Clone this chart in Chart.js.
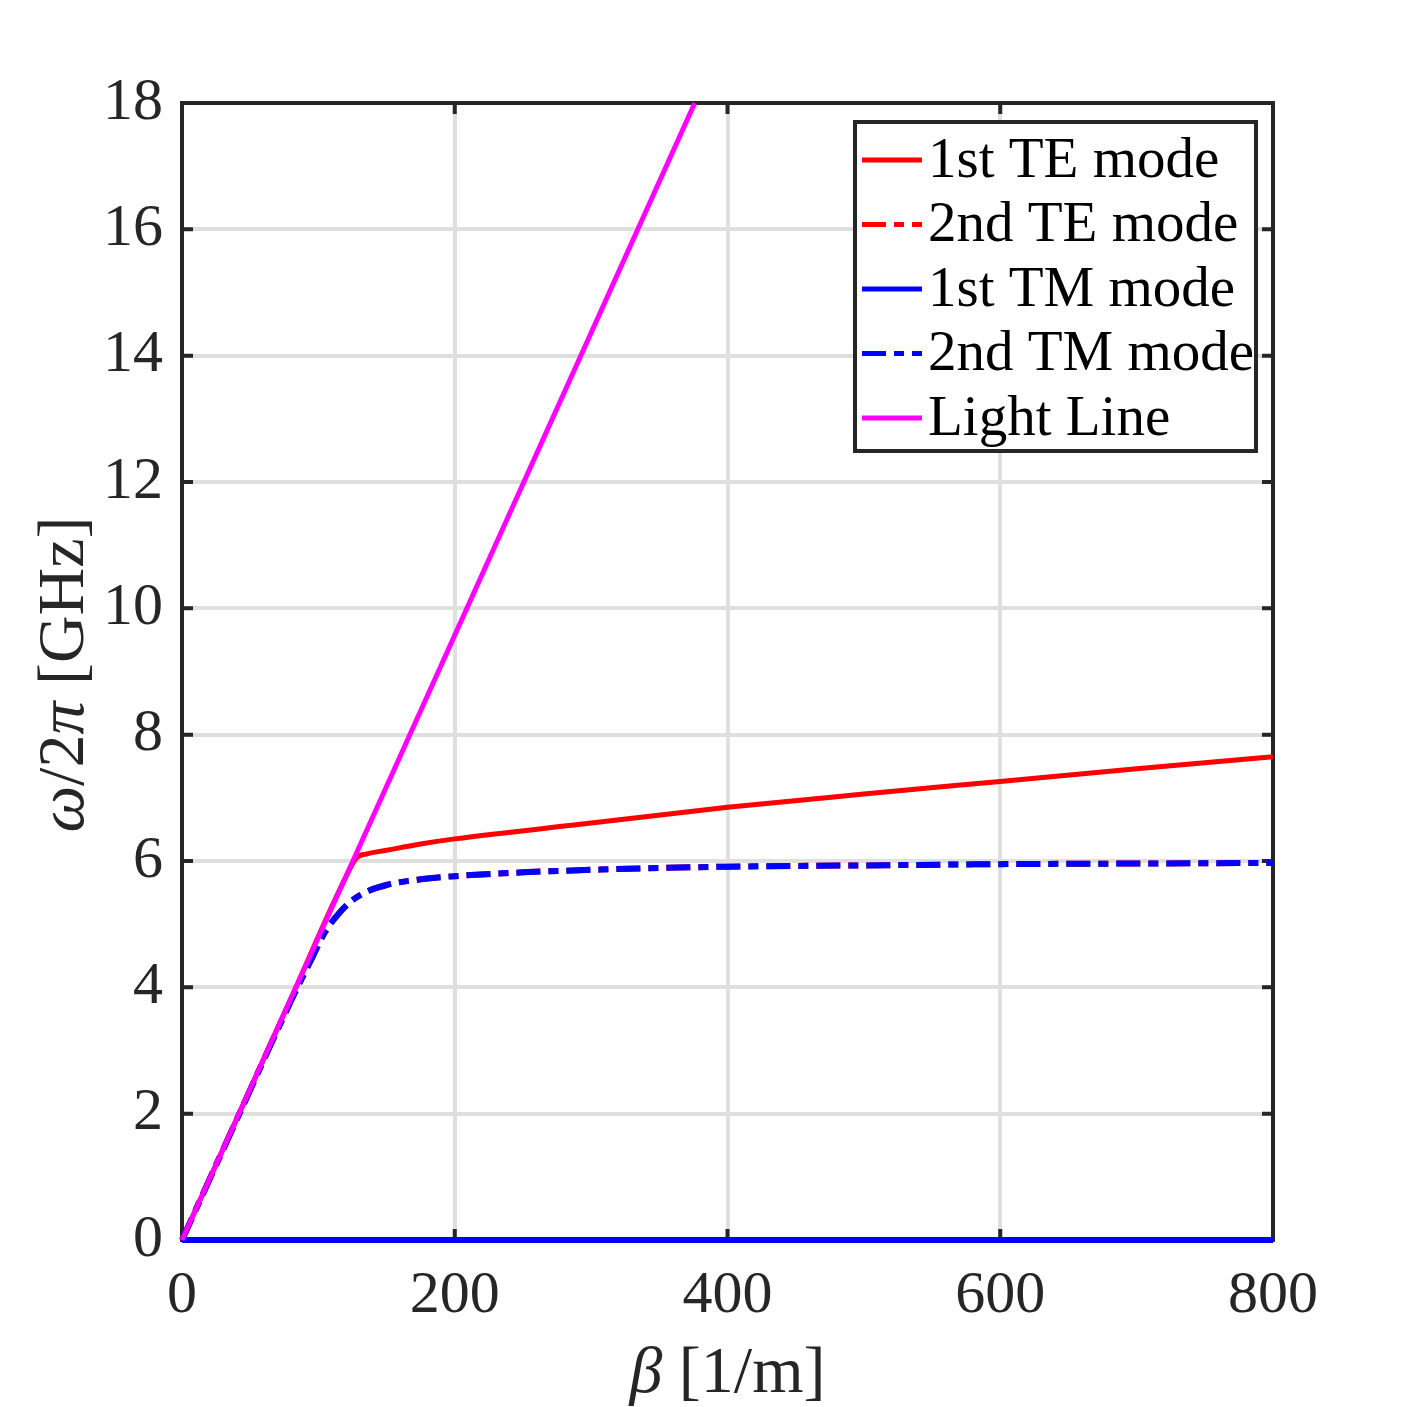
<!DOCTYPE html>
<html>
<head>
<meta charset="utf-8">
<script src="https://cdn.jsdelivr.net/npm/chart.js@4.4.1/dist/chart.umd.min.js"></script>
<style>
  html, body { margin: 0; padding: 0; background: #fff; }
  #wrap { width: 1407px; height: 1407px; }
</style>
</head>
<body>
<div id="wrap"><canvas id="chart1"></canvas></div>
<script>
var seriesLabels = ['1st TE mode', '2nd TE mode', '1st TM mode', '2nd TM mode', 'Light Line']

var te1_beta = [0, 40, 80, 120, 128, 135, 150, 175, 200, 300, 400, 500, 600, 700, 800]
var te1_freq = [0, 1.91, 3.83, 5.74, 6.05, 6.11, 6.17, 6.27, 6.35, 6.6, 6.85, 7.06, 7.26, 7.46, 7.65]

var tm2_beta = [0, 40, 80, 95, 105, 115, 125, 135, 150, 175, 200, 250, 300, 400, 500, 600, 700, 800]
var tm2_freq = [0, 1.9, 3.79, 4.45, 4.88, 5.17, 5.38, 5.51, 5.62, 5.71, 5.76, 5.82, 5.86, 5.91, 5.93, 5.95, 5.96, 5.97]

// 2nd TE mode sits under the 2nd TM curve
var te2_beta = tm2_beta
var te2_freq = tm2_freq

var tm1_beta = [0, 800]
var tm1_freq = [0, 0]

var light_beta = [0, 376]
var light_freq = [0, 18]

var xTicks = [0, 200, 400, 600, 800]
var yTicks = [0, 2, 4, 6, 8, 10, 12, 14, 16, 18]

function pts(xs, ys) {
    return xs.map(function (x, i) { return { x: x, y: ys[i] } })
}

var ink = '#262626'
var serif = '"Liberation Serif", "DejaVu Serif", serif'
var labelSize = 66

var framePlugin = {
    id: 'frame',
    beforeDatasetsDraw: function (chart) {
        var a = chart.chartArea, ctx = chart.ctx
        var xs = chart.scales.x, ys = chart.scales.y
        ctx.save()
        ctx.strokeStyle = ink
        ctx.lineWidth = 4
        ctx.beginPath()
        xTicks.forEach(function (v) {
            var p = xs.getPixelForValue(v)
            ctx.moveTo(p, a.bottom); ctx.lineTo(p, a.bottom - 11)
            ctx.moveTo(p, a.top); ctx.lineTo(p, a.top + 11)
        })
        yTicks.forEach(function (v) {
            var p = ys.getPixelForValue(v)
            ctx.moveTo(a.left, p); ctx.lineTo(a.left + 11, p)
            ctx.moveTo(a.right, p); ctx.lineTo(a.right - 11, p)
        })
        ctx.stroke()
        ctx.strokeRect(a.left, a.top, a.right - a.left, a.bottom - a.top)
        ctx.restore()
    },
    afterDraw: function (chart) {
        var a = chart.chartArea, ctx = chart.ctx
        ctx.save()
        ctx.fillStyle = ink
        ctx.textBaseline = 'alphabetic'
        // x title: β [1/m]
        var cx = (a.left + a.right) / 2
        var xparts = [['β', true], [' [1/m]', false]]
        var xw = 0
        xparts.forEach(function (p) {
            ctx.font = (p[1] ? 'italic ' : '') + labelSize + 'px ' + serif
            p.push(ctx.measureText(p[0]).width)
            xw += p[2]
        })
        var sx = cx - xw / 2
        xparts.forEach(function (p) {
            ctx.font = (p[1] ? 'italic ' : '') + labelSize + 'px ' + serif
            ctx.fillText(p[0], sx, 1392)
            sx += p[2]
        })
        // y title: ω/2π [GHz]
        var parts = [['ω', true], ['/2', false], ['π', true], [' [GHz]', false]]
        var total = 0
        parts.forEach(function (p) {
            ctx.font = (p[1] ? 'italic ' : '') + labelSize + 'px ' + serif
            p.push(ctx.measureText(p[0]).width)
            total += p[2]
        })
        ctx.translate(83, (a.top + a.bottom) / 2 + 3)
        ctx.rotate(-Math.PI / 2)
        var px = -total / 2
        parts.forEach(function (p) {
            ctx.font = (p[1] ? 'italic ' : '') + labelSize + 'px ' + serif
            ctx.fillText(p[0], px, 0)
            px += p[2]
        })
        ctx.restore()

        // legend box inside the axes
        var ds = chart.data.datasets
        var left = 855, right = a.right - 17, top = a.top + 19, bottom = 451
        ctx.save()
        ctx.fillStyle = '#fff'
        ctx.fillRect(left, top, right - left, bottom - top)
        ctx.strokeStyle = ink
        ctx.lineWidth = 4
        ctx.strokeRect(left, top, right - left, bottom - top)
        ctx.font = '57px ' + serif
        ctx.textBaseline = 'middle'
        ds.forEach(function (d, i) {
            var yy = top + 38 + i * 64.5
            ctx.strokeStyle = d.borderColor
            ctx.lineWidth = 5
            ctx.setLineDash(d.borderDash || [])
            ctx.beginPath()
            ctx.moveTo(862, yy); ctx.lineTo(922, yy)
            ctx.stroke()
            ctx.setLineDash([])
            ctx.fillStyle = '#000'
            ctx.fillText(d.label, 928, yy + 2)
        })
        ctx.restore()
    }
}

var chart1 = new Chart(
    document.getElementById('chart1'),
    {
        type: 'line',
        data: {
            datasets: [
                {
                    label: seriesLabels[0],
                    data: pts(te1_beta, te1_freq),
                    borderColor: '#ff0000',
                    borderWidth: 5,
                    order: 4,
                },
                {
                    label: seriesLabels[1],
                    data: pts(te2_beta, te2_freq),
                    borderColor: '#ff0000',
                    borderWidth: 6,
                    borderDash: [24, 8, 10, 8],
                    order: 3,
                },
                {
                    label: seriesLabels[2],
                    data: pts(tm1_beta, tm1_freq),
                    borderColor: '#0000ff',
                    borderWidth: 6,
                    order: 2,
                },
                {
                    label: seriesLabels[3],
                    data: pts(tm2_beta, tm2_freq),
                    borderColor: '#0000ff',
                    borderWidth: 6,
                    borderDash: [24, 8, 10, 8],
                    order: 1,
                },
                {
                    label: seriesLabels[4],
                    data: pts(light_beta, light_freq),
                    borderColor: '#ff00ff',
                    borderWidth: 5,
                    order: 0,
                },
            ]
        },
        options: {
            responsive: true,
            maintainAspectRatio: false,
            animation: false,
            clip: false,
            elements: {
                point: { radius: 0 },
                line: { tension: 0.3, cubicInterpolationMode: 'monotone', fill: false }
            },
            layout: { padding: { left: 0, top: 103, right: 134, bottom: 0 } },
            plugins: {
                legend: { display: false },
                tooltip: { enabled: false }
            },
            scales: {
                x: {
                    type: 'linear',
                    min: 0,
                    max: 800,
                    afterFit: function (s) { s.height = 167 },
                    afterBuildTicks: function (s) { s.ticks = xTicks.map(function (v) { return { value: v } }) },
                    grid: { color: '#dfdfdf', lineWidth: 4, drawTicks: false },
                    border: { display: false },
                    ticks: {
                        padding: 20,
                        color: ink,
                        font: { family: serif, size: 60 },
                        maxRotation: 0
                    }
                },
                y: {
                    type: 'linear',
                    min: 0,
                    max: 18,
                    afterFit: function (s) { s.width = 182 },
                    afterBuildTicks: function (s) { s.ticks = yTicks.map(function (v) { return { value: v } }) },
                    grid: { color: '#dfdfdf', lineWidth: 4, drawTicks: false },
                    border: { display: false },
                    ticks: {
                        padding: 19,
                        color: ink,
                        font: { family: serif, size: 60 }
                    }
                }
            }
        },
        plugins: [framePlugin]
    }
);
</script>
</body>
</html>
